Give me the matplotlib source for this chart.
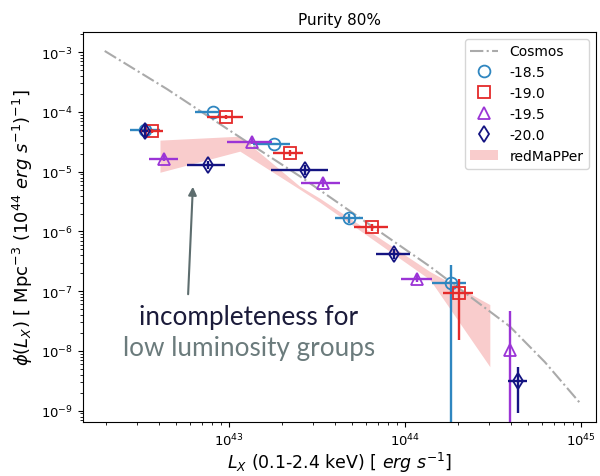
import numpy as np
import matplotlib
matplotlib.use("Agg")
import matplotlib.pyplot as plt

# Cosmos reference luminosity function
cosmos_lx = [1.97e42, 4.45e42, 1.155e43, 2.53e43, 1.387e44, 3.95e44, 6.24e44, 9.86e44]
cosmos_phi = [1.05e-3, 2.42e-4, 3.78e-5, 8.41e-6, 2.60e-7, 2.57e-8, 6.55e-9, 1.36e-9]

# redMaPPer band
rm_lx = [4.06e42, 1.155e43, 2.53e43, 3.29e43, 1.387e44, 3.04e44]
rm_hi = [3.38e-5, 3.94e-5, 5.71e-6, 3.59e-6, 2.14e-7, 5.98e-8]
rm_lo = [9.8e-6, 2.21e-5, 5.08e-6, 3.08e-6, 1.57e-7, 5.46e-9]

# magnitude cut -18.5
m185_lx = [3.33e42, 8.11e42, 1.80e43, 4.81e43, 1.82e44]
m185_lx_lo = [2.74e42, 6.41e42, 1.37e43, 4.00e43, 1.42e44]
m185_lx_hi = [4.06e42, 8.77e42, 2.22e43, 5.77e43, 2.22e44]
m185_phi = [4.97e-5, 9.95e-5, 2.89e-5, 1.66e-6, 1.35e-7]
m185_phi_lo = [4.5e-5, 9.5e-5, 2.75e-5, 1.40e-6, 1e-11]
m185_phi_hi = [5.4e-5, 1.05e-4, 3.0e-5, 1.95e-6, 2.70e-7]

# magnitude cut -19.0
m190_lx = [3.65e42, 9.62e42, 2.22e43, 6.49e43, 2.03e44]
m190_lx_lo = [3.12e42, 7.50e42, 1.78e43, 5.13e43, 1.64e44]
m190_lx_hi = [4.22e42, 1.20e43, 2.63e43, 8.00e43, 2.43e44]
m190_phi = [4.79e-5, 8.2e-5, 2.04e-5, 1.17e-6, 9.5e-8]
m190_phi_lo = [4.4e-5, 7.6e-5, 1.8e-5, 1.0e-6, 1.55e-8]
m190_phi_hi = [5.2e-5, 8.8e-5, 2.3e-5, 1.35e-6, 1.63e-7]

# magnitude cut -19.5
m195_lx = [4.28e42, 1.35e43, 3.42e43, 1.17e44, 3.95e44]
m195_lx_lo = [3.51e42, 9.75e42, 2.56e43, 9.48e43, 3.90e44]
m195_lx_hi = [5.13e42, 1.75e43, 4.28e43, 1.42e44, 4.00e44]
m195_phi = [1.62e-5, 3.13e-5, 6.41e-6, 1.63e-7, 1.05e-8]
m195_phi_lo = [1.5e-5, 2.9e-5, 5.6e-6, 1.45e-7, 1e-11]
m195_phi_hi = [1.9e-5, 3.6e-5, 7.5e-6, 1.9e-7, 4.74e-8]

# magnitude cut -20.0
m200_lx = [3.33e42, 7.60e42, 2.70e43, 8.66e43, 4.39e44]
m200_lx_lo = [3.20e42, 5.77e42, 1.73e43, 6.84e43, 3.85e44]
m200_lx_hi = [3.46e42, 9.50e42, 3.65e43, 1.07e44, 4.93e44]
m200_phi = [4.79e-5, 1.29e-5, 1.06e-5, 4.13e-7, 3.18e-9]
m200_phi_lo = [3.8e-5, 1.1e-5, 8.8e-6, 3.4e-7, 9.2e-10]
m200_phi_hi = [6.2e-5, 1.5e-5, 1.28e-5, 5.0e-7, 5.46e-9]

series = [
    ("-18.5", "o", "#2f86c0", m185_lx, m185_lx_lo, m185_lx_hi, m185_phi, m185_phi_lo, m185_phi_hi),
    ("-19.0", "s", "#e42a2a", m190_lx, m190_lx_lo, m190_lx_hi, m190_phi, m190_phi_lo, m190_phi_hi),
    ("-19.5", "^", "#9b34d6", m195_lx, m195_lx_lo, m195_lx_hi, m195_phi, m195_phi_lo, m195_phi_hi),
    ("-20.0", "d", "#141482", m200_lx, m200_lx_lo, m200_lx_hi, m200_phi, m200_phi_lo, m200_phi_hi),
]

fig = plt.figure(figsize=(6.0, 4.77), dpi=100)
ax = fig.add_axes([0.138, 0.113, 0.855, 0.818])

ax.fill_between(rm_lx, rm_lo, rm_hi, color="lightcoral", alpha=0.4, lw=0, label="redMaPPer")
ax.plot(cosmos_lx, cosmos_phi, ls="-.", color="#aaaaaa", lw=1.5, label="Cosmos")

for name, mk, col, lx, lxl, lxh, phi, pl, ph in series:
    lx, lxl, lxh = np.array(lx), np.array(lxl), np.array(lxh)
    phi, pl, ph = np.array(phi), np.array(pl), np.array(ph)
    ax.errorbar(lx, phi, xerr=[lx - lxl, lxh - lx], yerr=[phi - pl, ph - phi],
                fmt="none", ecolor=col, elinewidth=1.7, capsize=0)
    ax.plot(lx, phi, ls="none", marker=mk, ms=8.5, mfc="none", mec=col, mew=1.3, label=name)

ax.set_xscale("log")
ax.set_yscale("log")
ax.set_xlim(10**42.17, 10**45.085)
ax.set_ylim(10**-9.19, 10**-2.66)
ax.set_yticks([1e-3, 1e-4, 1e-5, 1e-6, 1e-7, 1e-8, 1e-9])
ax.tick_params(labelsize=9.5)

ax.set_title("Purity 80%", fontsize=11)
ax.set_xlabel(r"$L_X$ (0.1-2.4 keV) [ $erg\ s^{-1}$]", fontsize=12.5, labelpad=1)
ax.set_ylabel(r"$\phi(L_X)$ [ Mpc$^{-3}$ (10$^{44}$ $erg\ s^{-1}$)$^{-1}$]", fontsize=13)

h, l = ax.get_legend_handles_labels()
order = [1, 2, 3, 4, 5, 0]
ax.legend([h[i] for i in order], [l[i] for i in order], loc="upper right", fontsize=10)

# annotation about the low-luminosity end
ax.annotate("", xy=(193 / 600, 1 - 185 / 477), xytext=(188 / 600, 1 - 298 / 477),
            xycoords="figure fraction", textcoords="figure fraction",
            arrowprops=dict(arrowstyle="-|>", color="#5d6d6e", lw=1.5, mutation_scale=12))
fig.text(249 / 600, 1 - 317 / 477, "incompleteness for", ha="center", va="center",
         fontsize=18.8, family="Lato", color="#1b1b3a")
fig.text(249 / 600, 1 - 349 / 477, "low luminosity groups", ha="center", va="center",
         fontsize=18.8, family="Lato", color="#6b7b7c")

fig.savefig("out.png", dpi=100)
